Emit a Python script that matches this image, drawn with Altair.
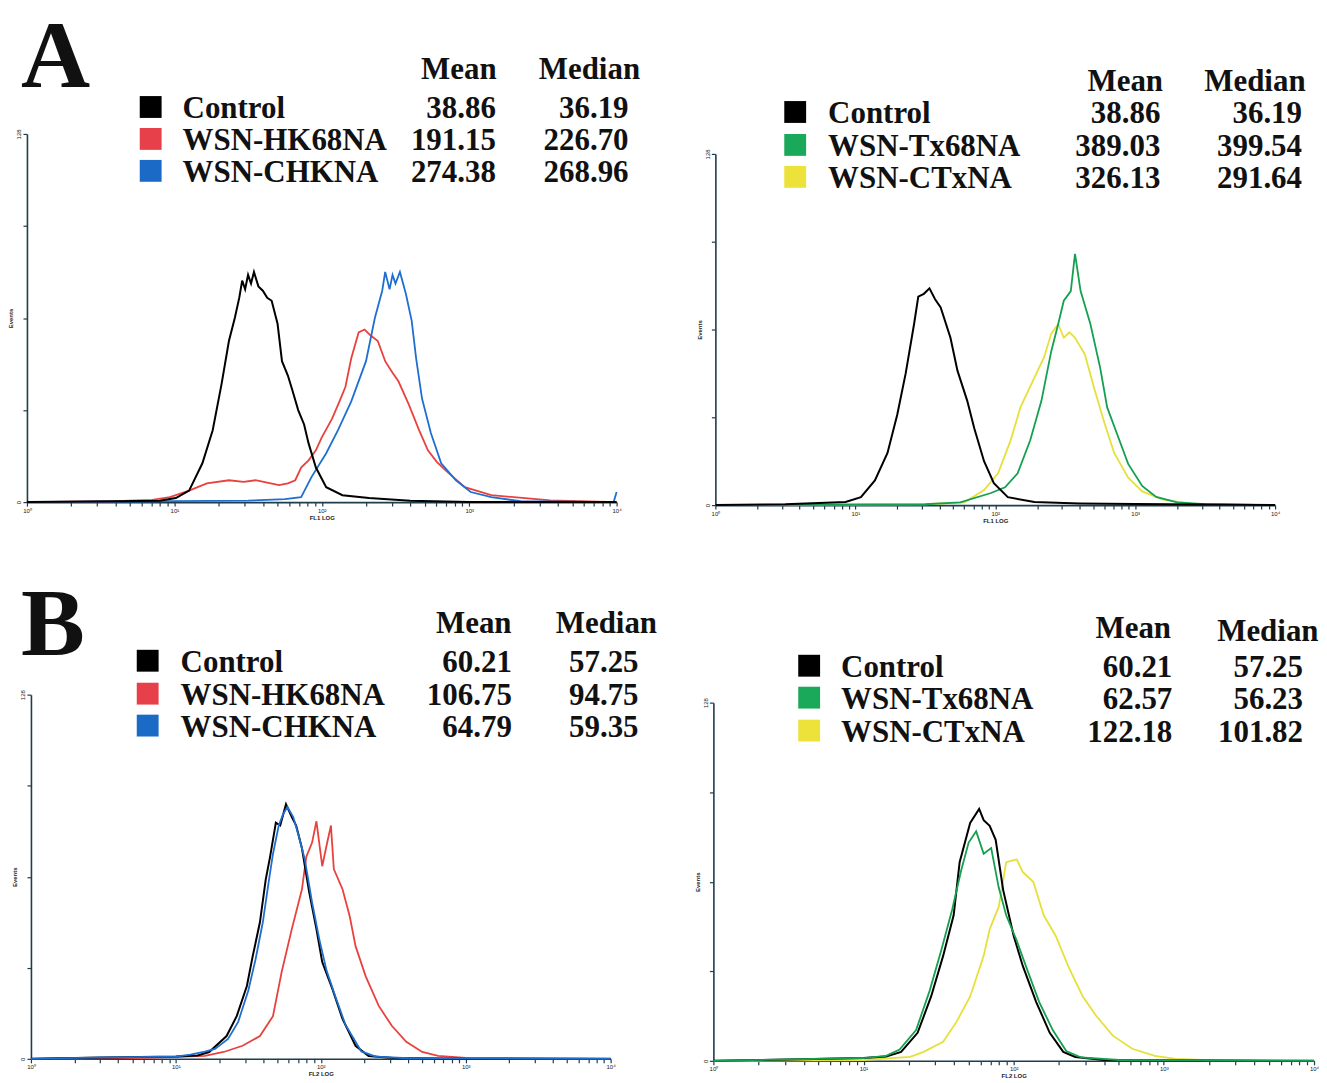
import altair as alt
import pandas as pd

# ---------------- data (log10 of fluorescence channel, events) ----------------
# Panel A, left
A1_CTRL_LOG = [0.0, 0.6, 0.9, 1.01, 1.10, 1.19, 1.26, 1.32, 1.37, 1.41, 1.44, 1.46, 1.48, 1.50, 1.52, 1.54, 1.57, 1.60, 1.63, 1.66, 1.70, 1.73, 1.77, 1.80, 1.84, 1.88, 1.91, 1.96, 2.03, 2.14, 2.32, 2.6, 3.0, 4.0]
A1_CTRL_Y = [0, 0.3, 0.5, 1.4, 4, 13.5, 25, 41, 56, 64, 71, 77, 74, 79, 76, 80, 75, 73.5, 71, 70, 62, 49, 44, 39, 32, 27, 20.5, 12, 5.2, 2.4, 1.4, 0.5, 0, 0]
A1_HK_LOG = [0.0, 0.6, 0.85, 0.97, 1.10, 1.22, 1.37, 1.47, 1.55, 1.63, 1.71, 1.77, 1.82, 1.86, 1.91, 1.96, 2.00, 2.07, 2.12, 2.16, 2.20, 2.25, 2.29, 2.33, 2.38, 2.43, 2.48, 2.52, 2.59, 2.66, 2.72, 2.78, 2.84, 2.97, 3.15, 3.38, 3.55, 4.0]
A1_HK_Y = [0, 0.3, 0.8, 1.7, 4, 6.5, 7.6, 7, 7.6, 6.8, 5.9, 6.5, 7.6, 12, 14.5, 18, 22.5, 29, 35, 40, 50, 59, 60, 58, 56, 49, 45, 42, 34, 25, 18, 14, 11, 5.2, 2.4, 1.4, 0.6, 0]
A1_CHK_LOG = [0.0, 1.5, 1.75, 1.86, 1.93, 2.03, 2.11, 2.20, 2.30, 2.36, 2.41, 2.43, 2.46, 2.48, 2.50, 2.53, 2.57, 2.61, 2.64, 2.68, 2.74, 2.81, 2.91, 3.01, 3.15, 3.35, 3.98, 4.0]
A1_CHK_Y = [0, 0.5, 1, 1.7, 8.7, 17, 25, 35, 49, 64, 73.5, 80, 74, 79, 76, 80, 72.5, 63, 50, 36, 24, 13.5, 7.6, 3.5, 1.7, 0.3, 0, 3.5]

# Panel A, right
A2_CTRL_LOG = [0.0, 0.5, 0.93, 1.04, 1.14, 1.23, 1.30, 1.36, 1.42, 1.45, 1.49, 1.53, 1.57, 1.61, 1.68, 1.73, 1.80, 1.85, 1.92, 1.99, 2.09, 2.28, 2.6, 3.0, 3.5, 4.0]
A2_CTRL_Y = [0, 0.3, 1.1, 2.9, 9, 19, 33, 48, 66, 76, 77, 79, 75, 72, 61, 49, 38, 28, 16, 8, 2.9, 1.1, 0.6, 0.4, 0.2, 0]
A2_TX_LOG = [0.0, 1.5, 1.75, 1.97, 2.07, 2.16, 2.25, 2.33, 2.40, 2.45, 2.49, 2.54, 2.57, 2.61, 2.68, 2.75, 2.80, 2.87, 2.95, 3.05, 3.15, 3.3, 3.5, 4.0]
A2_TX_Y = [0, 0.3, 1, 4.4, 6.5, 11.6, 23.6, 38, 56, 66, 74.5, 78, 91.6, 78, 66, 50, 35.6, 26, 15, 7, 3, 1, 0.3, 0]
A2_CTX_LOG = [0.0, 1.5, 1.78, 1.92, 2.02, 2.11, 2.18, 2.28, 2.35, 2.40, 2.45, 2.49, 2.53, 2.57, 2.64, 2.71, 2.78, 2.85, 2.95, 3.05, 3.2, 3.4, 4.0]
A2_CTX_Y = [0, 0.3, 1, 5.5, 11.6, 23.6, 35.6, 46.5, 54, 62.5, 66, 61, 63, 61, 55, 42, 30, 19, 10, 5, 2, 0.5, 0]

# Panel B, left
B1_CTRL_LOG = [0.0, 0.5, 1.0, 1.15, 1.23, 1.35, 1.42, 1.49, 1.53, 1.58, 1.62, 1.65, 1.69, 1.72, 1.76, 1.80, 1.83, 1.87, 1.92, 1.97, 2.01, 2.08, 2.15, 2.24, 2.33, 2.5, 3.0, 4.0]
B1_CTRL_Y = [0, 0.5, 0.8, 1.2, 2.4, 8, 15, 25.6, 36, 48, 63, 71, 83, 82, 89.5, 85, 82, 74, 58.6, 45.6, 34, 24.6, 14, 4.6, 1, 0.3, 0, 0]
B1_HK_LOG = [0.0, 0.8, 1.2, 1.33, 1.46, 1.58, 1.67, 1.73, 1.80, 1.87, 1.90, 1.94, 1.97, 2.01, 2.04, 2.07, 2.09, 2.15, 2.20, 2.24, 2.31, 2.40, 2.49, 2.59, 2.70, 2.81, 3.0, 4.0]
B1_HK_Y = [0, 0.3, 1, 2.4, 4.6, 8, 15, 30.5, 45.6, 59.6, 71, 76, 83.5, 67.7, 75, 82, 66.7, 59.6, 50, 39.6, 29, 18.6, 11.6, 6, 2.4, 1, 0.3, 0]
B1_CHK_LOG = [0.0, 0.5, 1.0, 1.1, 1.2, 1.27, 1.36, 1.43, 1.50, 1.55, 1.60, 1.64, 1.67, 1.71, 1.74, 1.77, 1.81, 1.85, 1.89, 1.94, 1.99, 2.04, 2.10, 2.17, 2.28, 2.38, 2.6, 4.0]
B1_CHK_Y = [0, 0.5, 0.8, 1.5, 2.5, 3.5, 7, 13, 24, 35, 48, 62, 72, 82, 86, 88.5, 85, 78, 70, 55, 42, 31, 22, 12, 2.6, 0.8, 0.2, 0]

# Panel B, right
B2_CTRL_LOG = [0.0, 0.5, 1.0, 1.15, 1.25, 1.36, 1.45, 1.53, 1.60, 1.64, 1.71, 1.77, 1.80, 1.84, 1.88, 1.93, 2.00, 2.06, 2.15, 2.24, 2.33, 2.41, 2.6, 4.0]
B2_CTRL_Y = [0, 0.5, 1, 1.5, 3.2, 10, 23, 37.5, 52, 71, 85, 90, 86, 84, 79, 61, 44.6, 34, 21, 10, 3.2, 1.4, 0.3, 0]
B2_TX_LOG = [0.0, 0.5, 1.0, 1.15, 1.24, 1.35, 1.44, 1.52, 1.59, 1.65, 1.70, 1.75, 1.80, 1.85, 1.90, 1.95, 2.02, 2.08, 2.17, 2.26, 2.35, 2.45, 2.7, 4.0]
B2_TX_Y = [0, 0.5, 1, 1.8, 4, 11, 25, 40, 54, 68, 78, 82, 74, 76, 62, 52, 43, 34, 21, 11, 3.5, 1.2, 0.3, 0]
B2_CTX_LOG = [0.0, 1.0, 1.31, 1.40, 1.53, 1.62, 1.71, 1.80, 1.84, 1.90, 1.95, 2.02, 2.06, 2.13, 2.20, 2.28, 2.37, 2.46, 2.55, 2.66, 2.79, 2.94, 3.08, 3.3, 4.0]
B2_CTX_Y = [0, 0.3, 1.4, 3.2, 6.8, 14, 23, 37.5, 47, 55, 71, 72, 67.5, 64, 52, 44.6, 33, 23, 16, 9, 4.3, 1.8, 0.7, 0.2, 0]

# legend tables
A1_NAMES = ["Control", "WSN-HK68NA", "WSN-CHKNA"]
A1_MEAN = ["38.86", "191.15", "274.38"]
A1_MEDIAN = ["36.19", "226.70", "268.96"]
A2_NAMES = ["Control", "WSN-Tx68NA", "WSN-CTxNA"]
A2_MEAN = ["38.86", "389.03", "326.13"]
A2_MEDIAN = ["36.19", "399.54", "291.64"]
B1_NAMES = ["Control", "WSN-HK68NA", "WSN-CHKNA"]
B1_MEAN = ["60.21", "106.75", "64.79"]
B1_MEDIAN = ["57.25", "94.75", "59.35"]
B2_NAMES = ["Control", "WSN-Tx68NA", "WSN-CTxNA"]
B2_MEAN = ["60.21", "62.57", "122.18"]
B2_MEDIAN = ["57.25", "56.23", "101.82"]

X_TICK_VALUES = [m * 10 ** d for d in range(4) for m in range(1, 10)] + [10000]
Y_TICK_VALUES = [0, 32, 64, 96, 128]

# ---------------- styling ----------------
LINE_BLACK = "#000000"
LINE_RED = "#e8423f"
LINE_BLUE = "#1e6fd0"
LINE_GREEN = "#14a050"
LINE_YELLOW = "#e6e03a"
SQ_COLORS = {"Control": "#000000", "WSN-HK68NA": "#e8404a", "WSN-CHKNA": "#1b6bc6",
             "WSN-Tx68NA": "#1aa85a", "WSN-CTxNA": "#ece23a"}
AXIS_COLOR = "#1f3d4d"
SERIF = "Liberation Serif"
CELL_W, CELL_H = 655, 533

X_LABEL_EXPR = ("datum.value == 1 ? '10⁰' : datum.value == 10 ? '10¹' : datum.value == 100 ? '10²' : "
                "datum.value == 1000 ? '10³' : datum.value == 10000 ? '10⁴' : ''")
Y_LABEL_EXPR = "(datum.value == 0 || datum.value == 128) ? datum.label : ''"


def curve(logs, counts):
    return pd.DataFrame({"fl": [10 ** v for v in logs], "events": counts, "idx": list(range(len(logs)))})


def panel(curves, xr, yr, xtitle, letter, letter_pos, names, means, medians, hdr, rows, sq_x, lab_x, mean_x, med_x):
    x_enc = alt.X("fl:Q",
                  scale=alt.Scale(type="log", domain=[1, 10000], range=xr),
                  axis=alt.Axis(values=X_TICK_VALUES, labelExpr=X_LABEL_EXPR, title=xtitle,
                                offset=yr[0] - CELL_H, grid=False, domainColor=AXIS_COLOR, domainWidth=1.6,
                                tickColor=AXIS_COLOR, tickSize=4, tickWidth=1.2, labelFontSize=6,
                                labelColor="#222", labelPadding=1, titleFontSize=6, titlePadding=1,
                                titleColor="#222", titleFontWeight="bold", labelFlush=False, labelOverlap=False))
    y_enc = alt.Y("events:Q",
                  scale=alt.Scale(domain=[0, 128], range=yr, nice=False, zero=True),
                  axis=alt.Axis(values=Y_TICK_VALUES, labelExpr=Y_LABEL_EXPR, title="Events",
                                offset=-xr[0], grid=False, domainColor=AXIS_COLOR, domainWidth=1.6,
                                tickColor=AXIS_COLOR, tickSize=4, tickWidth=1.2, labelFontSize=6,
                                labelAngle=270, labelColor="#222", labelPadding=1, titleFontSize=6,
                                titleX=-13, titleColor="#222", titleFontWeight="bold"))
    layers = []
    for df, color, width in curves:
        layers.append(alt.Chart(df).mark_line(color=color, strokeWidth=width, interpolate="linear")
                      .encode(x=x_enc, y=y_enc, order="idx:Q"))

    one = pd.DataFrame({"k": [0]})

    def txt(s, x, y, size=31, align="left"):
        return alt.Chart(one).mark_text(text=s, font=SERIF, fontWeight="bold", fontSize=size, align=align,
                                        baseline="alphabetic", color="#111").encode(x=alt.value(x), y=alt.value(y))

    if letter:
        layers.append(txt(letter, letter_pos[0], letter_pos[1], size=96))
    layers.append(txt("Mean", hdr[0], hdr[2]))
    layers.append(txt("Median", hdr[1], hdr[3]))
    for i, name in enumerate(names):
        yb = rows[i]
        layers.append(alt.Chart(one).mark_square(size=480, color=SQ_COLORS[name], opacity=1, filled=True)
                      .encode(x=alt.value(sq_x), y=alt.value(yb - 11)))
        layers.append(txt(name, lab_x, yb))
        layers.append(txt(means[i], mean_x, yb, align="right"))
        layers.append(txt(medians[i], med_x, yb, align="right"))
    return alt.layer(*layers).properties(width=CELL_W, height=CELL_H)


pA1 = panel([(curve(A1_HK_LOG, A1_HK_Y), LINE_RED, 1.8),
             (curve(A1_CHK_LOG, A1_CHK_Y), LINE_BLUE, 1.8),
             (curve(A1_CTRL_LOG, A1_CTRL_Y), LINE_BLACK, 2.0)],
            xr=[19, 610], yr=[494, 125], xtitle="FL1 LOG", letter="A", letter_pos=(13, 78),
            names=A1_NAMES, means=A1_MEAN, medians=A1_MEDIAN, hdr=(414, 532, 70, 70),
            rows=[109, 141, 173], sq_x=143, lab_x=175, mean_x=489, med_x=622)

pA2 = panel([(curve(A2_CTX_LOG, A2_CTX_Y), LINE_YELLOW, 1.8),
             (curve(A2_TX_LOG, A2_TX_Y), LINE_GREEN, 1.8),
             (curve(A2_CTRL_LOG, A2_CTRL_Y), LINE_BLACK, 2.0)],
            xr=[54, 615], yr=[497, 145], xtitle="FL1 LOG", letter=None, letter_pos=None,
            names=A2_NAMES, means=A2_MEAN, medians=A2_MEDIAN, hdr=(427, 544, 82, 82),
            rows=[114, 147, 179], sq_x=134, lab_x=167, mean_x=500, med_x=642)

pB1 = panel([(curve(B1_HK_LOG, B1_HK_Y), LINE_RED, 1.8),
             (curve(B1_CTRL_LOG, B1_CTRL_Y), LINE_BLACK, 2.0),
             (curve(B1_CHK_LOG, B1_CHK_Y), LINE_BLUE, 1.8)],
            xr=[23, 604], yr=[519, 154], xtitle="FL2 LOG", letter="B", letter_pos=(13, 114),
            names=B1_NAMES, means=B1_MEAN, medians=B1_MEDIAN, hdr=(429, 549, 92, 92),
            rows=[131, 164, 196], sq_x=140, lab_x=173, mean_x=505, med_x=632)

pB2 = panel([(curve(B2_CTX_LOG, B2_CTX_Y), LINE_YELLOW, 1.8),
             (curve(B2_CTRL_LOG, B2_CTRL_Y), LINE_BLACK, 2.0),
             (curve(B2_TX_LOG, B2_TX_Y), LINE_GREEN, 1.8)],
            xr=[52, 654], yr=[521, 162], xtitle="FL2 LOG", letter=None, letter_pos=None,
            names=B2_NAMES, means=B2_MEAN, medians=B2_MEDIAN, hdr=(435, 557, 97, 100),
            rows=[136, 168, 201], sq_x=148, lab_x=180, mean_x=512, med_x=643)

chart = (alt.concat(pA1, pA2, pB1, pB2, columns=2, spacing=0, bounds="flush")
         .properties(padding=0, background="white")
         .configure_view(stroke="transparent", strokeWidth=0))

chart.save("out.html", embed_options={"renderer": "svg", "actions": False})
